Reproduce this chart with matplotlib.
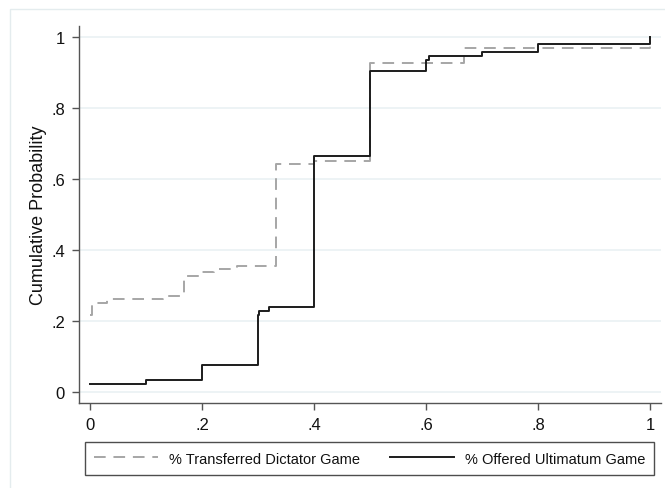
import matplotlib
matplotlib.use("Agg")
import matplotlib.pyplot as plt
from matplotlib.patches import Rectangle

# empirical cdf steps, share of the pie given away
dictator_x = [0, 0.004, 0.03, 0.13, 0.167, 0.2, 0.222, 0.263, 0.333, 0.4, 0.5, 0.667, 1.0]
dictator_y = [0.217, 0.251, 0.261, 0.27, 0.327, 0.337, 0.346, 0.355, 0.642, 0.652, 0.926, 0.968, 1.0]

ultimatum_x = [0, 0.1, 0.2, 0.3, 0.302, 0.32, 0.4, 0.5, 0.6, 0.605, 0.7, 0.8, 1.0]
ultimatum_y = [0.0225, 0.035, 0.077, 0.217, 0.229, 0.24, 0.664, 0.903, 0.936, 0.946, 0.958, 0.981, 1.0]

xticks = [0, 0.2, 0.4, 0.6, 0.8, 1.0]
xlabels = ["0", ".2", ".4", ".6", ".8", "1"]
yticks = [0, 0.2, 0.4, 0.6, 0.8, 1.0]
ylabels = ["0", ".2", ".4", ".6", ".8", "1"]

plt.rcParams["font.family"] = ["Liberation Sans", "DejaVu Sans"]

W, H = 665, 489
fig = plt.figure(figsize=(W / 100, H / 100), dpi=100)
fig.patch.set_facecolor("white")

# light outer frame around the graph region
fig.patches.append(Rectangle((10 / W, -0.05), 1.1, 1 - 10 / H + 0.05, transform=fig.transFigure,
                             fill=False, edgecolor="#e4ecee", linewidth=1.0))

ax = fig.add_axes([79 / W, 1 - 404 / H, (661 - 79) / W, (404 - 27) / H])
ax.set_xlim((79 - 90) / 560, (661 - 90) / 560)
ax.set_ylim((393 - 404) / 355, (393 - 27) / 355)

for y in yticks:
    ax.axhline(y, color="#eaf1f3", linewidth=1.2, zorder=0)

ax.step(dictator_x, dictator_y, where="post", color="#a6a6a6", linewidth=1.4,
        dashes=(6, 4), label="% Transferred Dictator Game", zorder=2)
ax.step(ultimatum_x, ultimatum_y, where="post", color="#1c1c1c", linewidth=1.4,
        label="% Offered Ultimatum Game", zorder=3)

for side in ["top", "right"]:
    ax.spines[side].set_visible(False)
for side in ["left", "bottom"]:
    ax.spines[side].set_color("#555555")
    ax.spines[side].set_linewidth(1.0)

ax.set_xticks(xticks)
ax.set_xticklabels(xlabels, fontsize=12)
ax.set_yticks(yticks)
ax.set_yticklabels(ylabels, fontsize=12)
ax.tick_params(axis="both", direction="out", length=5, width=1.0, color="#555555",
               labelcolor="#111111", pad=5)

ax.set_ylabel("Cumulative Probability", fontsize=13, color="#111111", labelpad=3)

# legend box below the x axis, both keys on one row
leg = ax.legend(loc="center", bbox_to_anchor=((85 + 654) / 2 / W, 1 - 459.5 / H),
                bbox_transform=fig.transFigure, ncol=2, fontsize=10.5,
                frameon=True, fancybox=False, handlelength=4.4, handletextpad=0.7,
                borderaxespad=0, borderpad=0.65, columnspacing=2.1)
leg.get_frame().set_edgecolor("#222222")
leg.get_frame().set_linewidth(1.0)
for t in leg.get_texts():
    t.set_color("#111111")

fig.savefig("out.png", dpi=100, facecolor="white")
